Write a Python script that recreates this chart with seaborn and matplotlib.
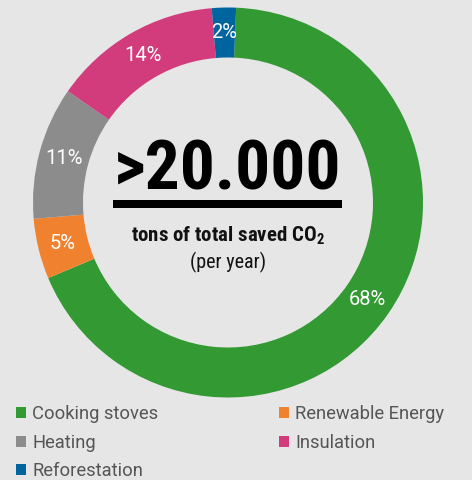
import matplotlib
matplotlib.use("Agg")
import numpy as np
import matplotlib.pyplot as plt
import seaborn as sns
from matplotlib import font_manager

# data
categories = ["Cooking stoves", "Renewable Energy", "Heating", "Insulation", "Reforestation"]
shares = [68, 5, 11, 14, 2]
colors = ["#339933", "#f0822f", "#8c8c8c", "#d33c7c", "#00649e"]
headline = ">20.000"

bg = "#e6e6e6"
sns.set_theme(style="white", rc={"axes.facecolor": bg, "figure.facecolor": bg})

names = {f.name for f in font_manager.fontManager.ttflist}
cond = "Roboto Condensed" if "Roboto Condensed" in names else "Liberation Sans"
plain = "Roboto" if "Roboto" in names else "DejaVu Sans"
plt.rcParams["font.family"] = [cond, "DejaVu Sans"]
plt.rcParams["mathtext.default"] = "regular"

fig = plt.figure(figsize=(4.72, 4.80), dpi=100)
ax = fig.add_axes([0, 0, 1, 1])

cx, cy, R, W = 228, 277.5, 195, 50
wedges, texts = ax.pie(shares, colors=colors, startangle=87.6, counterclock=False,
                       center=(cx, cy), radius=R,
                       wedgeprops=dict(width=W, edgecolor="none"))
ax.set_xlim(0, 472)
ax.set_ylim(0, 480)
ax.set_aspect("equal")
ax.axis("off")

# percent labels in the ring
for w, v in zip(wedges, shares):
    mid = np.deg2rad((w.theta1 + w.theta2) / 2)
    r = R - W / 2
    ax.text(cx + r * np.cos(mid), cy + r * np.sin(mid), f"{v}%", family=[plain],
            color="white", fontsize=14.5, ha="center", va="center")

ax.text(cx, 290, headline, fontsize=50, fontweight="bold", ha="center",
        va="baseline", color="black")
ax.add_patch(plt.Rectangle((113, 272), 229, 8, color="black", lw=0))
ax.text(cx, 244, "tons of total saved CO$_2$", fontsize=15, fontweight="bold",
        ha="center", va="center", color="#111111")
ax.text(cx, 218, "(per year)", fontsize=14.5, ha="center", va="center", color="#111111")

order = [0, 2, 4, 1, 3]
leg = fig.legend([wedges[i] for i in order], [categories[i] for i in order],
                 ncol=2, loc="upper left", bbox_to_anchor=(16 / 472, 1 - 405 / 480),
                 frameon=False, prop={"family": plain, "size": 13.2},
                 handlelength=0.55, handleheight=0.55, borderpad=0,
                 handletextpad=0.33, columnspacing=6.6, labelspacing=0.58,
                 borderaxespad=0)
for t in leg.get_texts():
    t.set_color("#555555")

fig.savefig("out.png", dpi=100, facecolor=bg)
